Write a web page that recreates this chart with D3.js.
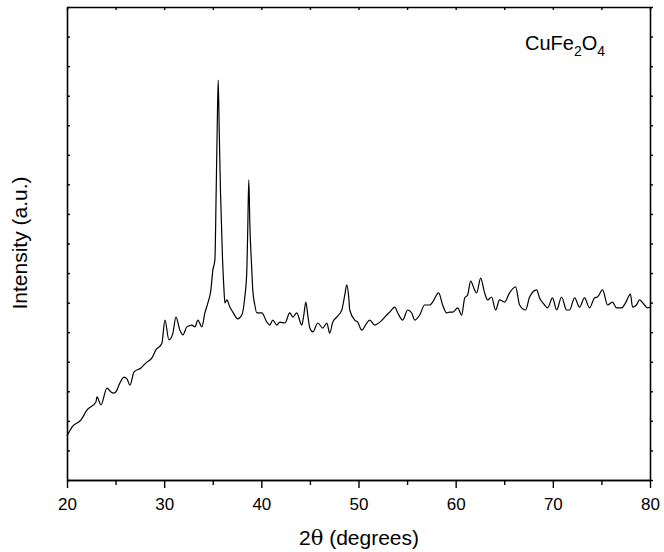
<!DOCTYPE html>
<html>
<head>
<meta charset="utf-8">
<script src="https://cdn.jsdelivr.net/npm/d3@7"></script>
<style>
  body { margin: 0; background: #fff; }
  text { font-family: "Liberation Sans", Arial, sans-serif; fill: #000; }
</style>
</head>
<body>
<div id="chart"></div>
<script>
// XRD pattern, CuFe2O4
var twoTheta = [
  20.00, 20.51, 21.44, 22.06, 22.98, 23.08, 23.50, 24.11, 24.52, 24.83,
  25.14, 25.35, 25.86, 26.17, 26.48, 26.89, 27.61, 28.12, 28.74, 29.15,
  29.67, 29.77, 30.08, 30.49, 30.90, 31.21, 31.62, 31.93, 32.34, 32.85,
  33.16, 33.47, 33.88, 34.19, 34.50, 34.81, 35.01, 35.22, 35.35, 35.46,
  35.56, 35.66, 35.80, 36.01, 36.14, 36.25, 36.45, 36.76, 37.07, 37.38,
  37.58, 37.99, 38.30, 38.51, 38.61, 38.71, 38.82, 39.02, 39.12, 39.33,
  39.54, 40.05, 40.57, 40.87, 41.18, 41.59, 41.90, 42.42, 42.93, 43.24,
  43.65, 44.16, 44.37, 44.58, 44.78, 44.99, 45.30, 45.81, 46.32, 46.74,
  47.04, 47.35, 47.76, 48.28, 48.59, 48.79, 49.00, 49.10, 49.61, 49.92,
  50.33, 50.85, 51.16, 51.67, 52.19, 52.90, 53.21, 53.73, 54.04, 54.55,
  55.06, 55.48, 55.78, 56.30, 56.81, 57.33, 57.63, 58.25, 58.66, 59.07,
  59.38, 59.69, 60.21, 60.62, 60.93, 61.23, 61.54, 61.95, 62.16, 62.57,
  62.98, 63.29, 63.70, 64.11, 64.52, 65.04, 65.55, 66.17, 66.58, 67.20,
  67.61, 68.33, 68.64, 69.15, 69.46, 69.97, 70.39, 70.90, 71.41, 71.72,
  72.24, 72.75, 73.26, 73.78, 74.29, 74.60, 75.12, 75.63, 76.14, 76.56,
  77.07, 77.48, 77.99, 78.20, 78.61, 78.92, 79.43, 79.74, 80.00
];
var intensity = [
  149, 179, 203, 237, 264, 281, 254, 311, 298, 294,
  304, 321, 348, 342, 321, 365, 379, 396, 413, 440,
  457, 463, 541, 474, 497, 551, 507, 491, 518, 524,
  518, 541, 518, 565, 599, 643, 710, 744, 971, 1194,
  1353, 1194, 971, 744, 653, 599, 609, 585, 568, 551,
  545, 558, 619, 710, 863, 1015, 863, 710, 643, 592,
  565, 565, 534, 524, 541, 524, 534, 531, 565, 551,
  565, 524, 558, 602, 558, 514, 501, 531, 514, 531,
  497, 534, 551, 575, 626, 660, 616, 575, 541, 534,
  507, 531, 541, 524, 534, 558, 568, 585, 565, 541,
  575, 565, 541, 558, 592, 592, 602, 633, 592, 565,
  568, 568, 582, 558, 616, 626, 673, 643, 633, 683,
  633, 609, 619, 575, 609, 602, 633, 653, 592, 575,
  619, 643, 616, 592, 582, 616, 575, 619, 575, 575,
  616, 585, 616, 582, 616, 619, 643, 592, 602, 582,
  582, 599, 629, 585, 592, 609, 592, 582, 585
];
var xMajorTicks = [20, 30, 40, 50, 60, 70, 80];
var xMinorTicks = [25, 35, 45, 55, 65, 75];
var yTicks = d3.range(0, 1601, 100);

var width = 664, height = 552;
var margin = { left: 67, right: 14, top: 7, bottom: 72 };

var svg = d3.select("#chart").append("svg")
  .attr("width", width)
  .attr("height", height);

var x = d3.scaleLinear().domain([20, 80]).range([margin.left, width - margin.right]);
var y = d3.scaleLinear().domain([0, 1600]).range([height - margin.bottom, margin.top]);

var data = twoTheta.map(function (t, i) { return { t: t, v: intensity[i] }; });

// axes
var axes = svg.append("g");

function styleAxis(g) {
  g.select(".domain").attr("stroke", "#000").attr("stroke-width", 1.6);
  g.selectAll(".tick line").attr("stroke", "#000").attr("stroke-width", 1.4);
}

axes.append("g")
  .attr("transform", "translate(0," + y(0) + ")")
  .call(d3.axisBottom(x).tickValues(xMajorTicks).tickSize(8).tickSizeOuter(0).tickPadding(10))
  .call(styleAxis)
  .call(g => g.selectAll("text").attr("font-size", 17).attr("font-family", '"Liberation Sans", Arial, sans-serif'));

axes.append("g")
  .attr("transform", "translate(0," + y(0) + ")")
  .call(d3.axisBottom(x).tickValues(xMinorTicks).tickSize(5).tickSizeOuter(0).tickFormat(""))
  .call(styleAxis);

axes.append("g")
  .attr("transform", "translate(0," + y(1600) + ")")
  .call(d3.axisBottom(x).tickValues(xMinorTicks.concat(xMajorTicks)).tickSize(3).tickSizeOuter(0).tickFormat(""))
  .call(styleAxis);

axes.append("g")
  .attr("transform", "translate(" + x(20) + ",0)")
  .call(d3.axisRight(y).tickValues(yTicks).tickSize(3).tickSizeOuter(0).tickFormat(""))
  .call(styleAxis);

axes.append("g")
  .attr("transform", "translate(" + x(80) + ",0)")
  .call(d3.axisRight(y).tickValues(yTicks).tickSize(3).tickSizeOuter(0).tickFormat(""))
  .call(styleAxis);

// pattern
var line = d3.line()
  .curve(d3.curveMonotoneX)
  .x(d => x(d.t))
  .y(d => y(d.v));

svg.append("path")
  .datum(data)
  .attr("fill", "none")
  .attr("stroke", "#000")
  .attr("stroke-width", 1.2)
  .attr("stroke-linejoin", "round")
  .attr("d", line);

// titles
var xt = svg.append("text")
  .attr("x", 359)
  .attr("y", 545)
  .attr("text-anchor", "middle")
  .attr("font-size", 21);
xt.append("tspan").text("2");
xt.append("tspan").attr("font-family", '"DejaVu Serif", "Liberation Serif", serif').text("θ");
xt.append("tspan").text(" (degrees)");

svg.append("text")
  .attr("transform", "translate(27,243) rotate(-90)")
  .attr("text-anchor", "middle")
  .attr("font-size", 21)
  .text("Intensity (a.u.)");

var lbl = svg.append("text")
  .attr("x", 525)
  .attr("y", 50)
  .attr("font-size", 20);
lbl.append("tspan").text("CuFe");
lbl.append("tspan").attr("font-size", 14).attr("dy", 6).text("2");
lbl.append("tspan").attr("dy", -6).text("O");
lbl.append("tspan").attr("font-size", 14).attr("dy", 6).text("4");
</script>
</body>
</html>
